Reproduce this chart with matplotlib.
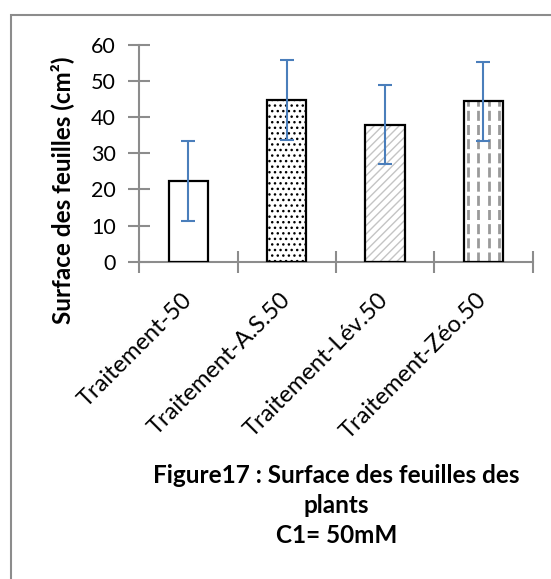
import numpy as np
import matplotlib.pyplot as plt
from matplotlib.patches import Rectangle

# Data
traitements = ['Traitement-50', 'Traitement-A.S.50', 'Traitement-Lév.50', 'Traitement-Zéo.50']
surface = [22.3, 44.7, 37.9, 44.3]
ecart_type = [11.0, 11.0, 11.0, 11.0]

plt.rcParams['font.family'] = ['Lato', 'DejaVu Sans']

W, H = 551, 579
fig = plt.figure(figsize=(W / 100, H / 100), dpi=100)

# outer frame of the chart area
fig.patches.append(Rectangle((11 / W, -0.1), 1.2, 1 - 15 / H + 0.1,
                             transform=fig.transFigure, fill=False,
                             edgecolor='#8c8c8c', linewidth=1.5))

ax = fig.add_axes([139.3 / W, 1 - 261.7 / H, 393.2 / W, 217 / H])

x = np.arange(len(traitements))
w = 0.40

# hatched fills, then black outline on top
plt.rcParams['hatch.linewidth'] = 1.0
ax.bar(x[0], surface[0], width=w, color='white', linewidth=0, zorder=2)
ax.bar(x[1], surface[1], width=w, color='white', hatch='...', edgecolor='black', linewidth=0, zorder=2)
ax.bar(x[2], surface[2], width=w, color='white', hatch='////', edgecolor='#c4c4c4', linewidth=0, zorder=2)
ax.bar(x[3], surface[3], width=w, color='white', linewidth=0, zorder=2)
# vertical dashed pattern in the last bar
for dx in np.linspace(-w / 2 + 0.04, w / 2 - 0.04, 4):
    ax.vlines(x[3] + dx, 0, surface[3], colors='#9a9a9a', linewidth=2,
              linestyles=(0, (3.6, 1.5)), zorder=2.5)
ax.bar(x, surface, width=w, fill=False, edgecolor='black', linewidth=1.6, zorder=3)

ax.errorbar(x, surface, yerr=ecart_type, fmt='none', ecolor='#4a7ebb',
            elinewidth=1.5, capsize=4.7, capthick=1.5, zorder=4)

ax.set_ylim(0, 60)
ax.set_xlim(-0.5, 3.5)
ax.set_yticks(np.arange(0, 61, 10))
ax.set_xticks(x)
ax.set_xticklabels(traitements, rotation=45, ha='right', va='center',
                   rotation_mode='anchor', fontsize=17)
ax.set_xticks(np.arange(-0.5, 4, 1), minor=True)
ax.tick_params(axis='x', which='major', length=0, pad=25)
ax.tick_params(axis='x', which='minor', direction='inout', length=16, width=1.5, color='#8c8c8c')
ax.tick_params(axis='y', direction='inout', length=16, width=1.5, color='#8c8c8c', labelsize=15.5, pad=9)

for s in ['top', 'right']:
    ax.spines[s].set_visible(False)
for s in ['left', 'bottom']:
    ax.spines[s].set_color('#8c8c8c')
    ax.spines[s].set_linewidth(1.5)
ax.spines['left'].set_bounds(0, 60)

fig.text(62 / W, 1 - 190 / H, 'Surface des feuilles (cm²)', rotation=90, ha='center', va='center',
         fontsize=17.5, fontweight='bold')

caption = ['Figure17 : Surface des feuilles des', 'plants', 'C1= 50mM']
for k, line in enumerate(caption):
    fig.text(336.5 / W, 1 - (483 + 30 * k) / H, line, ha='center', va='baseline',
             fontsize=17.5, fontweight='bold')

fig.savefig('out.png', dpi=100)
